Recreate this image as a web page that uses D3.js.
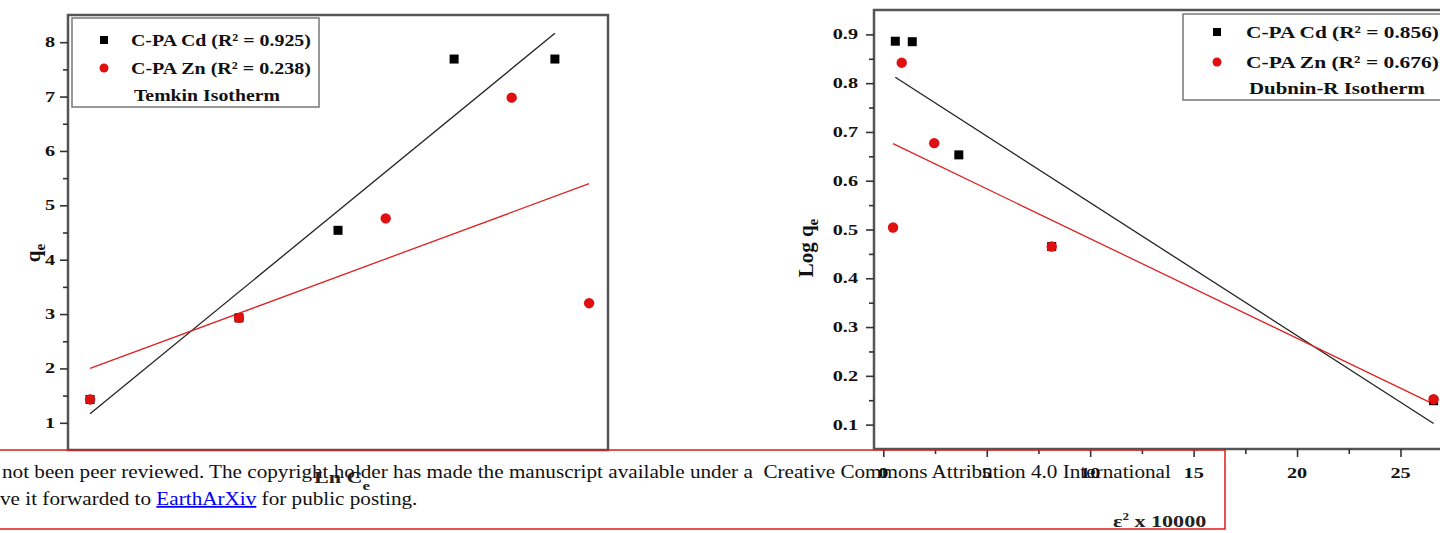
<!DOCTYPE html>
<html><head><meta charset="utf-8">
<script src="https://cdn.jsdelivr.net/npm/d3@7"></script>
<style>body{margin:0;background:#fff;} svg{display:block}</style>
</head><body>
<svg id="c" width="1440" height="533"></svg>
<script>
// ---------- Temkin isotherm (left panel) ----------
const temkinCdLnCe = [0.245, 1.90, 3.00, 4.29, 5.41];
const temkinCdQe   = [1.43, 2.93, 4.54, 7.69, 7.69];
const temkinZnLnCe = [0.245, 1.90, 3.53, 4.93, 5.79];
const temkinZnQe   = [1.43, 2.93, 4.76, 6.98, 3.20];
const temkinYTicks = [1, 2, 3, 4, 5, 6, 7, 8];
const temkinLegend = ["C-PA Cd (R² = 0.925)", "C-PA Zn (R² = 0.238)", "Temkin Isotherm"];

// ---------- Dubinin-R isotherm (right panel) ----------
const drCdEps   = [0.58, 1.40, 3.65, 8.14, 26.6];
const drCdLogQe = [0.886, 0.885, 0.653, 0.465, 0.149];
const drZnEps   = [0.47, 0.89, 2.46, 8.14, 26.6];
const drZnLogQe = [0.504, 0.842, 0.677, 0.465, 0.152];
const drYTicks  = [0.1, 0.2, 0.3, 0.4, 0.5, 0.6, 0.7, 0.8, 0.9];
const drXTicks  = [0, 5, 10, 15, 20, 25];
const drLegend  = ["C-PA Cd (R² = 0.856)", "C-PA Zn (R² = 0.676)", "Dubnin-R Isotherm"];

const noticeLine1 = "not been peer reviewed. The copyright holder has made the manuscript available under a  Creative Commons Attribution 4.0 International";
const noticeLine2a = "ve it forwarded to ";
const noticeLink = "EarthArXiv";
const noticeLine2b = " for public posting.";

const svg = d3.select("#c");
const SERIF = "'Liberation Serif','Times New Roman',serif";
const FRAME = "#555";
const SX = 1.35;

function fit(xs, ys) {
  const n = xs.length, mx = d3.mean(xs), my = d3.mean(ys);
  let sxy = 0, sxx = 0;
  for (let i = 0; i < n; i++) { sxy += (xs[i]-mx)*(ys[i]-my); sxx += (xs[i]-mx)**2; }
  const b = sxy / sxx, a = my - b*mx;
  const x0 = d3.min(xs), x1 = d3.max(xs);
  return [[x0, a + b*x0], [x1, a + b*x1]];
}

function stext(g, x, y, str, size, anchor, sx) {
  return g.append("text")
    .attr("transform", `translate(${x},${y}) scale(${sx||SX},1)`)
    .attr("text-anchor", anchor || "start")
    .attr("font-family", SERIF).attr("font-weight", "bold")
    .attr("font-size", size).attr("fill", "#111").text(str);
}
function fitText(g, x, y, str, size, width) {
  const t = g.append("text").attr("font-family", SERIF).attr("font-weight", "bold")
    .attr("font-size", size).attr("fill", "#111").text(str);
  const w = t.node().getComputedTextLength();
  t.attr("transform", `translate(${x},${y}) scale(${width / w},1)`);
  return t;
}

function panel(cfg) {
  const g = svg.append("g");
  const x = d3.scaleLinear().domain(cfg.xDomain).range(cfg.xRange);
  const y = d3.scaleLinear().domain(cfg.yDomain).range(cfg.yRange);
  g.append("rect").attr("x", cfg.xRange[0]).attr("y", cfg.yRange[1])
    .attr("width", cfg.xRange[1]-cfg.xRange[0]).attr("height", cfg.yRange[0]-cfg.yRange[1])
    .attr("fill", "none").attr("stroke", FRAME).attr("stroke-width", 2.5);
  const yAxisMajor = d3.axisLeft(y).tickValues(cfg.yTicks).tickSize(8).tickFormat("");
  const yAxisMinor = d3.axisLeft(y).tickValues(cfg.yMinor).tickSize(5).tickFormat("");
  [yAxisMajor, yAxisMinor].forEach(ax => {
    const a = g.append("g").attr("transform", `translate(${cfg.xRange[0]},0)`).call(ax);
    a.select(".domain").remove();
    a.selectAll("line").attr("stroke", "#333").attr("stroke-width", 1.6);
  });
  cfg.yTicks.forEach(v => stext(g, cfg.xRange[0] - cfg.yLabelGap, y(v) + 5, cfg.yFmt(v), 15, "end"));
  if (cfg.xTicks) {
    const xa = d3.axisBottom(x).tickValues(cfg.xTicks).tickSize(8).tickFormat("");
    const xm = d3.axisBottom(x).tickValues(cfg.xMinor).tickSize(5).tickFormat("");
    [xa, xm].forEach(ax => {
      const a = g.append("g").attr("transform", `translate(0,${cfg.yRange[0]})`).call(ax);
      a.select(".domain").remove();
      a.selectAll("line").attr("stroke", "#333").attr("stroke-width", 1.6);
    });
    cfg.xTicks.forEach(v => stext(g, x(v), cfg.yRange[0] + 29, String(v), 15, "middle"));
  }
  const line = d3.line().x(d => x(d[0])).y(d => y(d[1]));
  g.append("path").attr("d", line(fit(cfg.cdX, cfg.cdY))).attr("fill", "none")
    .attr("stroke", "#222").attr("stroke-width", 1.3);
  g.append("path").attr("d", line(fit(cfg.znX, cfg.znY))).attr("fill", "none")
    .attr("stroke", "#d22").attr("stroke-width", 1.3);
  g.selectAll(".cd").data(cfg.cdX).enter().append("rect")
    .attr("x", d => x(d) - 4.5).attr("y", (d, i) => y(cfg.cdY[i]) - 4.5)
    .attr("width", 9).attr("height", 9).attr("fill", "#000");
  g.selectAll(".zn").data(cfg.znX).enter().append("circle")
    .attr("cx", d => x(d)).attr("cy", (d, i) => y(cfg.znY[i])).attr("r", 5.2).attr("fill", "#e01010");
  const L = cfg.legend;
  g.append("rect").attr("x", L.x).attr("y", L.y).attr("width", L.w).attr("height", L.h)
    .attr("fill", "#fff").attr("stroke", "#777").attr("stroke-width", 1.5);
  g.append("rect").attr("x", L.mx - 4).attr("y", L.r1 - 4).attr("width", 8).attr("height", 8).attr("fill", "#000");
  g.append("circle").attr("cx", L.mx).attr("cy", L.r2).attr("r", 4.5).attr("fill", "#e01010");
  fitText(g, L.tx, L.r1 + 6, cfg.legendText[0], 17, L.tw);
  fitText(g, L.tx, L.r2 + 6, cfg.legendText[1], 17, L.tw);
  fitText(g, L.tx + 3, L.r3 + 6, cfg.legendText[2], 17, L.tw3);
  return {g, x, y};
}

const left = panel({
  xDomain: [0, 6], xRange: [68, 608],
  yDomain: [0.5, 8.5], yRange: [450, 15],
  yTicks: temkinYTicks, yMinor: d3.range(1.5, 8.5, 1), yFmt: d3.format("d"), yLabelGap: 13,
  cdX: temkinCdLnCe, cdY: temkinCdQe, znX: temkinZnLnCe, znY: temkinZnQe,
  legendText: temkinLegend,
  legend: {x: 72, y: 18, w: 247, h: 89, mx: 104, r1: 40, r2: 68, r3: 95, tx: 131, tw: 180, tw3: 146}
});
const lt = left.g.append("text").attr("transform", "translate(40,253) rotate(-90)")
  .attr("text-anchor", "middle").attr("font-family", SERIF).attr("font-weight", "bold")
  .attr("font-size", 21).attr("fill", "#111");
lt.append("tspan").text("q");
lt.append("tspan").attr("dy", 5).attr("font-size", 15).text("e");
const lx = left.g.append("text").attr("transform", "translate(314,483) scale(1.3,1)")
  .attr("font-family", SERIF).attr("font-weight", "bold").attr("font-size", 17).attr("fill", "#222");
lx.append("tspan").text("Ln C");
lx.append("tspan").attr("dy", 7).attr("font-size", 13).text("e");

const right = panel({
  xDomain: [-0.45, 27.2], xRange: [874, 1446],
  yDomain: [0.05, 0.95], yRange: [449, 10],
  yTicks: drYTicks, yMinor: d3.range(0.15, 0.95, 0.1), yFmt: d3.format(".1f"), yLabelGap: 16,
  xTicks: drXTicks, xMinor: d3.range(2.5, 27.5, 5),
  cdX: drCdEps, cdY: drCdLogQe, znX: drZnEps, znY: drZnLogQe,
  legendText: drLegend,
  legend: {x: 1183, y: 14, w: 270, h: 86, mx: 1217, r1: 32, r2: 62, r3: 88, tx: 1246, tw: 193, tw3: 176}
});
const rt = right.g.append("text").attr("transform", "translate(813,248) rotate(-90)")
  .attr("text-anchor", "middle").attr("font-family", SERIF).attr("font-weight", "bold")
  .attr("font-size", 21).attr("fill", "#111");
rt.append("tspan").text("Log q");
rt.append("tspan").attr("dy", 5).attr("font-size", 15).text("e");
const rx = right.g.append("text").attr("transform", "translate(1113,527) scale(1.3,1)")
  .attr("font-family", SERIF).attr("font-weight", "bold").attr("font-size", 17).attr("fill", "#222");
rx.append("tspan").text("ε");
rx.append("tspan").attr("dy", -7).attr("font-size", 10).text("2");
rx.append("tspan").attr("dy", 7).text(" x 10000");

// ---------- notice overlay ----------
const ov = svg.append("g");
ov.append("rect").attr("x", -5).attr("y", 450).attr("width", 1230).attr("height", 79)
  .attr("fill", "none").attr("stroke", "#e41a1a").attr("stroke-width", 1.5);
const t1 = ov.append("text").attr("font-family", SERIF).attr("font-size", 18).attr("fill", "#111")
  .attr("xml:space", "preserve").style("white-space", "pre").text(noticeLine1);
const w1 = t1.node().getComputedTextLength();
const s = (1172 - 2) / w1;
t1.attr("transform", `translate(2,478) scale(${s},1)`);
const t2 = ov.append("text").attr("font-family", SERIF).attr("font-size", 18).attr("fill", "#111")
  .attr("transform", `translate(0,505) scale(${s},1)`);
t2.append("tspan").text(noticeLine2a);
t2.append("tspan").attr("fill", "#0000ee").attr("text-decoration", "underline").text(noticeLink);
t2.append("tspan").text(noticeLine2b);
</script>
</body></html>
